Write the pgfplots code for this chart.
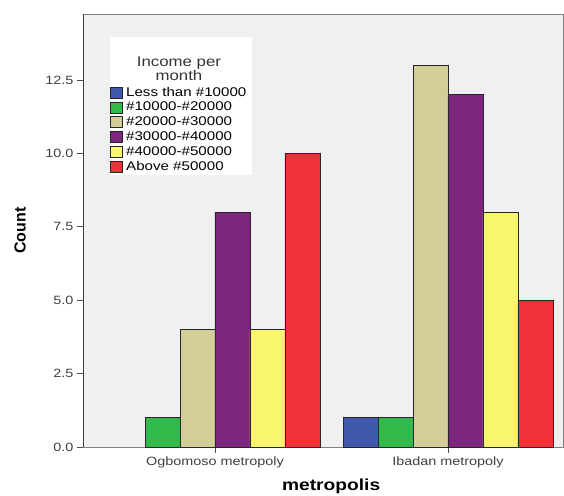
\documentclass[border=0pt]{standalone}
\usepackage{pgfplots}
\pgfplotsset{compat=1.18}
\usepackage{fontspec}
\setmainfont[FakeStretch=1.2]{Liberation Sans}
\newfontfamily\plainfont{Liberation Sans}

\definecolor{bgGray}{RGB}{240,240,240}
\definecolor{cBlue}{RGB}{62,88,172}
\definecolor{cGreen}{RGB}{50,185,75}
\definecolor{cTan}{RGB}{211,206,151}
\definecolor{cPurple}{RGB}{125,38,125}
\definecolor{cYellow}{RGB}{250,245,110}
\definecolor{cRed}{RGB}{238,50,56}

\begin{document}
\begin{tikzpicture}[x=1pt,y=1pt]
\path[use as bounding box] (-83,-48) rectangle (481,447);
\begin{axis}[
    at={(0,0)}, anchor=south west,
    scale only axis, width=480pt, height=433pt,
    xmin=-0.5665, xmax=1.4936, ymin=0, ymax=14.75,
    axis background/.style={fill=bgGray},
    axis line style={draw=black!50, line width=0.9pt},
    xtick={0,1},
    xticklabels={Ogbomoso metropoly, Ibadan metropoly},
    ytick={0,2.5,5,7.5,10,12.5},
    yticklabel style={/pgf/number format/.cd, fixed, fixed zerofill, precision=1, assume math mode=true},
    tick pos=left, tick align=outside,
    major tick length=6pt,
    major tick style={draw=black!70, line width=0.9pt},
    tick label style={font=\fontsize{12}{14}\selectfont, text=black!75},
    xlabel={\fontsize{16}{18}\selectfont\bfseries metropolis},
    ylabel={\plainfont\fontsize{16}{18}\selectfont\bfseries Count},
    xlabel style={at={(axis description cs:0.517,-0.092)}, anchor=center},
    ylabel style={at={(axis description cs:-0.131,0.5)}, anchor=center},
    ybar=0pt, bar width=0.15,
    every axis plot post/.append style={draw=black!85, line width=0.6pt,
        legend image code/.code={\draw[##1, draw=black!85, line width=0.6pt] (0pt,-5pt) rectangle (12pt,6pt);}},
    legend style={at={(rel axis cs:0.056,0.834)}, anchor=north west,
        draw=none, fill=none, inner sep=0pt, row sep=0.8pt,
        font=\fontsize{12.6}{14}\selectfont,
        nodes={inner sep=1.5pt, text height=8.5pt, text depth=2.5pt},
        /tikz/every odd column/.append style={column sep=2pt}},
    legend cell align=left,
]
\fill[white] (rel axis cs:0.05625,0.6282) rectangle (rel axis cs:0.3521,0.9469);
\draw[black!75, line width=0.9pt] (rel axis cs:0,0) -- (rel axis cs:0,1);
\node[align=center, font=\fontsize{14}{13}\selectfont, text=black!80]
    at (rel axis cs:0.2,0.874) {Income per\\month};

\addplot[fill=cBlue, bar shift=-0.375] coordinates {(1,1)};
\addlegendentry{Less than \#10000}
\addplot[fill=cGreen, bar shift=-0.225] coordinates {(0,1) (1,1)};
\addlegendentry{\#10000-\#20000}
\addplot[fill=cTan, bar shift=-0.075] coordinates {(0,4) (1,13)};
\addlegendentry{\#20000-\#30000}
\addplot[fill=cPurple, bar shift=0.075] coordinates {(0,8) (1,12)};
\addlegendentry{\#30000-\#40000}
\addplot[fill=cYellow, bar shift=0.225] coordinates {(0,4) (1,8)};
\addlegendentry{\#40000-\#50000}
\addplot[fill=cRed, bar shift=0.375] coordinates {(0,10) (1,5)};
\addlegendentry{Above \#50000}
\end{axis}
\end{tikzpicture}
\end{document}
